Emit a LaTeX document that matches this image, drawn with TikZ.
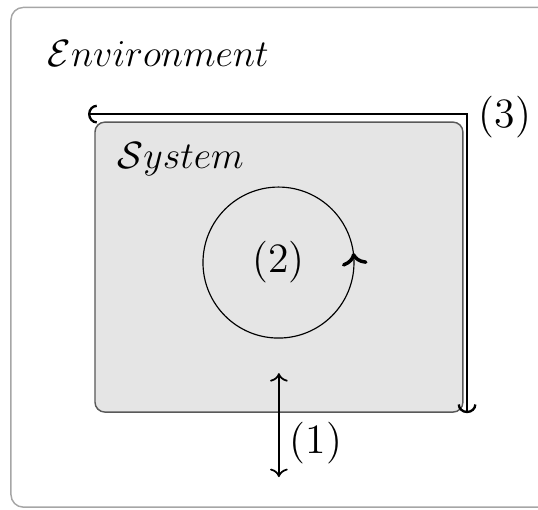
\documentclass[tikz,border=0pt]{standalone}
\usepackage{amsmath}
\usepackage{amssymb}
\usepackage{xcolor}
\usepackage{tikz}
\usetikzlibrary{arrows.meta,decorations.markings}

\begin{document}
\begin{tikzpicture}[font=\Large,
  envbox/.style={draw=gray!70, line width=0.5pt, rounded corners=0.15cm},
  sysbox/.style={draw=black!65, fill=black!10, line width=0.5pt, rounded corners=0.12cm},
  lbl/.style={inner sep=0pt},
  boxtitle/.style={inner sep=0pt, anchor=base west, scale=0.91, transform shape}]
\useasboundingbox (0,0) rectangle (6.52,6.17);
\clip (0,0) rectangle (6.52,6.17);

% Environment and system
\draw[envbox] (0.133,0.024) rectangle (7.3,6.08);
\node[boxtitle] (env) at (0.57,5.36) {$\mathcal{E}nvironment$};
\draw[sysbox] (1.151,1.176) rectangle (5.61,4.69);
\node[boxtitle] (sys) at (1.418,4.13) {$\mathcal{S}ystem$};

% (1) exchange across the boundary
\coordinate (in) at (3.38,1.648);
\coordinate (out) at (3.38,0.388);
\draw[<->, semithick] (in) -- (out);
\node[lbl] (one) at (3.83,0.80) {(1)};

% (2) internal cycle
\node[draw, circle, minimum size=1.83cm, inner sep=0pt,
  postaction={decorate},
  decoration={markings, mark=at position 0.02 with {\arrow[line width=1.2pt]{>}}}]
  (cyc) at (3.375,2.988) {};
\node[lbl] (two) at (cyc.center) {(2)};

% (3) system boundary
\coordinate (b1) at (1.067,4.787);
\coordinate (b2) at (5.66,4.787);
\coordinate (b3) at (5.66,1.163);
\draw[thick, {Arc Barb[width=6.5pt,length=3pt]}-{Arc Barb[width=6.5pt,length=3pt]}] (b1) -- (b2) -- (b3);
\node[lbl] (three) at (6.12,4.75) {(3)};

\end{tikzpicture}
\end{document}
